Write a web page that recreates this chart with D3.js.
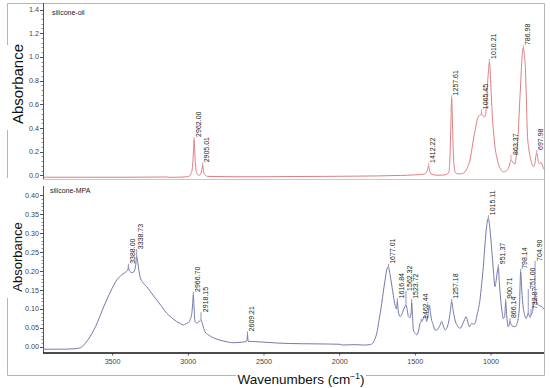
<!DOCTYPE html>
<html>
<head>
<meta charset="utf-8">
<script src="https://cdn.jsdelivr.net/npm/d3@7"></script>
<style>
  body { margin: 0; background: #fff; }
  svg { display: block; font-family: "Liberation Sans", Arial, sans-serif; }
</style>
</head>
<body>
<svg id="chart" width="550" height="388"></svg>
<script>
// FTIR spectra: silicone oil (top) and silicone-MPA (bottom)

// --- data: [wavenumber, absorbance] ---
const oilSpectrum = [
  [3958, -0.015], [3700, -0.015], [3400, -0.015], [3140, -0.013], [3120, -0.016], [3020, -0.012],
  [2995, -0.006], [2980, 0.02], [2972, 0.08], [2966, 0.2], [2962, 0.30], [2958, 0.22],
  [2952, 0.08], [2944, 0.02], [2930, 0.0], [2918, 0.015], [2910, 0.05], [2905, 0.085],
  [2900, 0.04], [2890, 0.005], [2870, -0.008], [2700, -0.011], [2500, -0.011], [2300, -0.009],
  [2100, -0.008], [1900, -0.006], [1750, -0.004], [1600, 0.0], [1500, 0.005], [1440, 0.012],
  [1425, 0.03], [1417, 0.06], [1412, 0.08], [1407, 0.05], [1398, 0.015], [1370, 0.003],
  [1330, 0.002], [1295, 0.008], [1278, 0.03], [1271, 0.16], [1265, 0.45], [1260, 0.65],
  [1255, 0.45], [1249, 0.19], [1242, 0.06], [1236, 0.025], [1216, 0.013], [1195, 0.015],
  [1172, 0.03], [1155, 0.07], [1139, 0.13], [1128, 0.21], [1117, 0.30], [1105, 0.38],
  [1095, 0.45], [1082, 0.50], [1070, 0.51], [1063, 0.515], [1055, 0.51], [1045, 0.495],
  [1037, 0.50], [1030, 0.61], [1024, 0.75], [1017, 0.88], [1011, 0.955], [1006, 0.90],
  [1002, 0.78], [996, 0.62], [991, 0.495], [982, 0.35], [974, 0.24], [963, 0.16],
  [952, 0.10], [935, 0.05], [919, 0.03], [905, 0.035], [893, 0.045], [885, 0.06],
  [876, 0.10], [868, 0.13], [860, 0.12], [851, 0.10], [842, 0.098], [832, 0.18],
  [820, 0.36], [812, 0.58], [804, 0.78], [796, 0.98], [787, 1.075], [780, 1.02],
  [773, 0.91], [766, 0.62], [760, 0.36], [751, 0.23], [742, 0.16], [731, 0.10],
  [720, 0.075], [710, 0.10], [704, 0.16], [698, 0.19], [692, 0.15], [685, 0.11],
  [678, 0.10], [668, 0.11], [660, 0.08], [648, 0.05]
];

const mpaSpectrum = [
  [3958, -0.006], [3850, -0.006], [3760, -0.005], [3720, -0.003], [3704, 0.0], [3680, 0.01],
  [3649, 0.027], [3600, 0.065], [3570, 0.095], [3539, 0.124], [3505, 0.153], [3473, 0.176],
  [3440, 0.19], [3412, 0.198], [3400, 0.203], [3396, 0.211], [3390, 0.201], [3374, 0.196],
  [3359, 0.198], [3348, 0.215], [3341, 0.238], [3334, 0.222], [3319, 0.185], [3300, 0.17],
  [3275, 0.159], [3240, 0.14], [3209, 0.124], [3175, 0.106], [3143, 0.089], [3110, 0.077],
  [3077, 0.067], [3050, 0.061], [3033, 0.058], [3020, 0.06], [3011, 0.062], [2998, 0.064],
  [2988, 0.072], [2978, 0.085], [2972, 0.11], [2967, 0.137], [2962, 0.105], [2956, 0.067],
  [2945, 0.063], [2932, 0.066], [2922, 0.07], [2916, 0.071], [2905, 0.058], [2890, 0.04],
  [2868, 0.032], [2840, 0.025], [2791, 0.018], [2740, 0.013], [2703, 0.011], [2640, 0.013],
  [2618, 0.014], [2612, 0.02], [2609, 0.033], [2605, 0.015], [2560, 0.014], [2480, 0.012],
  [2400, 0.01], [2330, 0.009], [2150, 0.008], [2000, 0.007], [1980, 0.005], [1900, 0.006],
  [1844, 0.005], [1800, 0.006], [1782, 0.01], [1768, 0.02], [1755, 0.036], [1740, 0.07],
  [1722, 0.115], [1710, 0.15], [1700, 0.176], [1688, 0.205], [1678, 0.211], [1667, 0.19],
  [1656, 0.163], [1645, 0.135], [1634, 0.11], [1625, 0.1], [1619, 0.12], [1613, 0.095],
  [1601, 0.08], [1590, 0.085], [1579, 0.097], [1568, 0.107], [1562, 0.11], [1553, 0.096],
  [1546, 0.08], [1535, 0.077], [1528, 0.09], [1524, 0.117], [1519, 0.085], [1513, 0.045],
  [1500, 0.035], [1491, 0.032], [1480, 0.04], [1469, 0.062], [1462, 0.066], [1458, 0.067],
  [1448, 0.075], [1436, 0.084], [1425, 0.067], [1416, 0.085], [1408, 0.11], [1400, 0.09],
  [1392, 0.07], [1385, 0.062], [1370, 0.045], [1358, 0.044], [1348, 0.049], [1336, 0.058],
  [1326, 0.067], [1315, 0.055], [1304, 0.045], [1292, 0.05], [1282, 0.062], [1270, 0.09],
  [1260, 0.119], [1250, 0.095], [1238, 0.071], [1222, 0.056], [1205, 0.049], [1190, 0.058],
  [1175, 0.072], [1165, 0.08], [1155, 0.068], [1143, 0.053], [1136, 0.058], [1128, 0.062],
  [1118, 0.06], [1106, 0.062], [1092, 0.085], [1073, 0.124], [1062, 0.165], [1051, 0.211],
  [1040, 0.27], [1030, 0.315], [1018, 0.339], [1007, 0.31], [995, 0.255], [984, 0.2],
  [974, 0.159], [966, 0.175], [958, 0.2], [952, 0.21], [945, 0.17], [936, 0.124],
  [926, 0.09], [919, 0.075], [910, 0.08], [903, 0.119], [897, 0.085], [886, 0.053],
  [880, 0.058], [875, 0.068], [868, 0.06], [855, 0.054], [842, 0.053], [830, 0.06],
  [820, 0.075], [812, 0.11], [804, 0.198], [797, 0.15], [787, 0.102], [778, 0.085],
  [769, 0.075], [760, 0.082], [754, 0.09], [746, 0.08], [740, 0.078], [736, 0.084],
  [728, 0.09], [718, 0.11], [709, 0.137], [700, 0.12], [687, 0.11], [675, 0.108],
  [665, 0.106], [650, 0.1]
];

// peak annotations: text, position, peak height, height where the label starts
const oilPeakText = ['2962.00', '2905.01', '1412.22', '1257.61', '1065.45', '1010.21', '863.37', '786.98', '697.98'];
const oilPeakWn   = [2962, 2905, 1412, 1260, 1063, 1011, 868, 787, 698];
const oilPeakAbs  = [0.30, 0.085, 0.08, 0.65, 0.515, 0.955, 0.13, 1.075, 0.19];
const oilLabelAbs = [0.316, 0.09, 0.09, 0.665, 0.55, 0.975, 0.165, 1.085, 0.2];

const mpaPeakText = ['3388.00', '3338.73', '2966.70', '2918.15', '2609.21', '1677.01', '1616.84', '1562.32', '1523.72',
                     '1462.44', '1257.18', '1015.11', '951.37', '900.71', '866.14', '798.14', '751.00', '732.87', '704.90'];
const mpaPeakWn   = [3396, 3341, 2967, 2916, 2609, 1678, 1619, 1562, 1524, 1462, 1260, 1018, 952, 903, 875, 804, 754, 736, 709];
const mpaPeakAbs  = [0.211, 0.238, 0.137, 0.071, 0.033, 0.211, 0.12, 0.11, 0.117, 0.066, 0.119, 0.339, 0.21, 0.119, 0.068, 0.198, 0.09, 0.084, 0.137];
const mpaLabelAbs = [0.216, 0.255, 0.142, 0.089, 0.037, 0.216, 0.124, 0.145, 0.124, 0.068, 0.124, 0.342, 0.213, 0.122, 0.068, 0.203, 0.15, 0.097, 0.224];

const xTicks = [3500, 3000, 2500, 2000, 1500, 1000];
const oilTicks = [0.0, 0.2, 0.4, 0.6, 0.8, 1.0, 1.2, 1.4];
const mpaTicks = [0.00, 0.05, 0.10, 0.15, 0.20, 0.25, 0.30, 0.35, 0.40];

// --- layout ---
const svg = d3.select('#chart');
const left = 43, right = 544;

const x = d3.scaleLinear().domain([3960, 650]).range([left, right]);
const yOil = d3.scaleLinear().domain([-0.03, 1.455]).range([179, 3]);
const yMpa = d3.scaleLinear().domain([-0.016, 0.424]).range([353, 186]);

// outer frame (gray), broken by the axis titles
const frame = svg.append('g').attr('stroke', '#b5b5b5').attr('stroke-width', 1).attr('fill', 'none');
frame.append('path').attr('d', 'M7.5,45 V3.5 H544.5 V375.5 H366');
frame.append('path').attr('d', 'M7.5,130 V178');
frame.append('path').attr('d', 'M7.5,298 V375.5 H236');
// boundary under top panel
svg.append('line')
  .attr('x1', left).attr('x2', right).attr('y1', 179.5).attr('y2', 179.5)
  .attr('stroke', '#c8c8c8');

// --- y axes ---
function yAxis(scale, ticks, fmt, top, bottom) {
  const g = svg.append('g').attr('transform', `translate(${left + 0.5},0)`);
  const step = ticks[1] - ticks[0];
  const minor = d3.range(ticks[0], ticks[ticks.length - 1] + step / 10, step / 5);
  g.selectAll('.minor').data(minor).enter().append('line')
    .attr('x1', -2).attr('x2', 0)
    .attr('y1', d => Math.round(scale(d)) + 0.5).attr('y2', d => Math.round(scale(d)) + 0.5)
    .attr('stroke', '#666').attr('stroke-width', 0.7);
  g.selectAll('.major').data(ticks).enter().append('line')
    .attr('x1', -3.5).attr('x2', 0)
    .attr('y1', d => Math.round(scale(d)) + 0.5).attr('y2', d => Math.round(scale(d)) + 0.5)
    .attr('stroke', '#555');
  g.append('line').attr('y1', top).attr('y2', bottom).attr('stroke', '#555');
  g.selectAll('text').data(ticks).enter().append('text')
    .attr('x', -4.5).attr('y', d => scale(d)).attr('dy', '0.35em')
    .attr('text-anchor', 'end').attr('font-size', 7.2).attr('fill', '#444')
    .text(fmt);
}
yAxis(yOil, oilTicks, d3.format('.1f'), 3, 179);
yAxis(yMpa, mpaTicks, d3.format('.2f'), 186, 353);

// --- x axis (bottom panel) ---
const xg = svg.append('g');
xg.append('line').attr('x1', left).attr('x2', right).attr('y1', 353).attr('y2', 353)
  .attr('stroke', '#111').attr('stroke-width', 1.6);
xg.selectAll('.tick').data(xTicks).enter().append('line')
  .attr('x1', d => x(d)).attr('x2', d => x(d)).attr('y1', 353).attr('y2', 355.5)
  .attr('stroke', '#333').attr('stroke-width', 0.8);
xg.selectAll('text').data(xTicks).enter().append('text')
  .attr('x', d => x(d)).attr('y', 364)
  .attr('text-anchor', 'middle').attr('font-size', 7.2).attr('fill', '#444')
  .text(d => d);

// axis titles
svg.append('text')
  .attr('transform', 'translate(23,84) rotate(-90)')
  .attr('text-anchor', 'middle').attr('font-size', 15).attr('fill', '#111')
  .text('Absorbance');
svg.append('text')
  .attr('transform', 'translate(22,257) rotate(-90)')
  .attr('text-anchor', 'middle').attr('font-size', 13).attr('fill', '#111')
  .text('Absorbance');
const xt = svg.append('text')
  .attr('x', 301).attr('y', 384)
  .attr('text-anchor', 'middle').attr('font-size', 13.5).attr('fill', '#111');
xt.append('tspan').text('Wavenumbers (cm');
xt.append('tspan').attr('font-size', 8.5).attr('dy', -5).text('\u22121');
xt.append('tspan').attr('dy', 5).text(')');

// panel names
svg.append('text').attr('x', 52).attr('y', 15).attr('font-size', 7).attr('fill', '#222').text('silicone-oil');
svg.append('text').attr('x', 50).attr('y', 193).attr('font-size', 7).attr('fill', '#222').text('silicone-MPA');

// --- spectra ---
function spectrum(data, yScale, color) {
  const line = d3.line()
    .x(d => x(d[0]))
    .y(d => yScale(d[1]))
    .curve(d3.curveMonotoneX);
  svg.append('path')
    .datum(data)
    .attr('d', line)
    .attr('fill', 'none')
    .attr('stroke', color)
    .attr('stroke-width', 1);
}
spectrum(oilSpectrum, yOil, '#df7f84');
spectrum(mpaSpectrum, yMpa, '#7479ac');

// --- peak labels ---
function peakLabels(texts, wns, peaks, levels, yScale, color) {
  const g = svg.append('g');
  texts.forEach((t, i) => {
    const px = x(wns[i]);
    const yPeak = yScale(peaks[i]);
    const yLab = Math.min(yScale(levels[i]), yPeak - 2);
    g.append('line')
      .attr('x1', px).attr('x2', px).attr('y1', yPeak).attr('y2', yLab - 1)
      .attr('stroke', color).attr('stroke-width', 0.8);
    g.append('text')
      .attr('transform', `translate(${px},${yLab - 1}) rotate(-90)`)
      .attr('y', 6.5)
      .attr('font-size', 7).attr('fill', '#222')
      .text(t);
  });
}
peakLabels(oilPeakText, oilPeakWn, oilPeakAbs, oilLabelAbs, yOil, '#df7f84');
peakLabels(mpaPeakText, mpaPeakWn, mpaPeakAbs, mpaLabelAbs, yMpa, '#7479ac');
</script>
</body>
</html>
